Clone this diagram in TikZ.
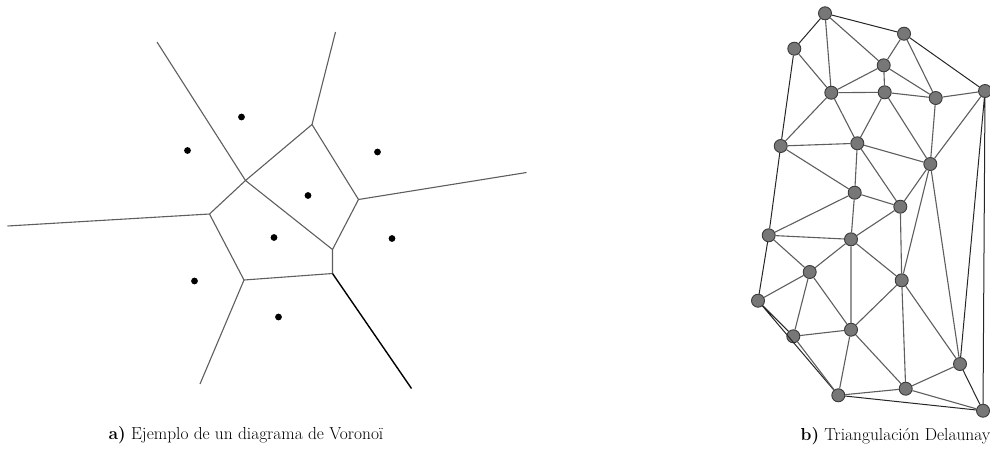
\documentclass[tikz,border=0pt]{standalone}
\usetikzlibrary{positioning}

\definecolor{edgegray}{HTML}{5E5E5E}
\definecolor{nodegray}{HTML}{777777}
\definecolor{rimgray}{HTML}{3A3A3A}

\begin{document}
\begin{tikzpicture}[
    x=1pt, y=-1pt,
    cell/.style={draw=edgegray, line width=1.1pt},
    site/.style={circle, fill=black, inner sep=0pt, minimum size=6.8pt},
    vertex/.style={circle, draw=rimgray, fill=nodegray, line width=0.9pt, inner sep=0pt, minimum size=13pt},
    inner/.style={draw=edgegray, line width=1.1pt},
    hull/.style={draw=black!85, line width=1pt},
    caption/.style={font=\fontsize{17.4}{20}\selectfont, inner sep=0pt}
]
\useasboundingbox (0,0) rectangle (990,456);

% Voronoi vertices
\coordinate (v1) at (312,124.5);
\coordinate (v2) at (245.5,180.5);
\coordinate (v3) at (358.5,199.5);
\coordinate (v4) at (209.5,214);
\coordinate (v5) at (332.5,249.5);
\coordinate (v6) at (332.5,273.5);
\coordinate (v7) at (244,280);
% open ends of the cells
\coordinate (r1) at (335.5,32);
\coordinate (r2) at (157,42);
\coordinate (r3) at (526.5,172.5);
\coordinate (r4) at (7.5,226);
\coordinate (r5) at (200,384);
\coordinate (r6) at (411.5,388.5);

% Cells
\draw[cell] (v1) -- (v2) (v1) -- (v3) (v2) -- (v4) (v2) -- (v5)
            (v3) -- (v5) (v4) -- (v7) (v5) -- (v6) (v6) -- (v7);
\draw[cell] (v1) -- (r1) (v2) -- (r2) (v3) -- (r3) (v4) -- (r4) (v7) -- (r5);
\draw[draw=black, line width=1.4pt] (v6) -- (r6);

% Sites
\node[site] (s1) at (241.5,117) {};
\node[site] (s2) at (187.5,150.5) {};
\node[site] (s3) at (377.5,152) {};
\node[site] (s4) at (308,195.5) {};
\node[site] (s5) at (274,237.5) {};
\node[site] (s6) at (392,238.5) {};
\node[site] (s7) at (194.5,281) {};
\node[site] (s8) at (278.5,317) {};

\node[caption, anchor=base] (capa) at (246,439.5) {\textbf{a)} Ejemplo de un diagrama de Voronoï};

% Delaunay points
\node[vertex] (dA) at (825,13.3) {};
\node[vertex] (dB) at (794.3,48.7) {};
\node[vertex] (dC) at (904,33.7) {};
\node[vertex] (dD) at (883.7,65.3) {};
\node[vertex] (dE) at (831.3,92.7) {};
\node[vertex] (dF) at (884.7,92.3) {};
\node[vertex] (dG) at (935.7,98) {};
\node[vertex] (dH) at (985,91) {};
\node[vertex] (dI) at (780.7,146) {};
\node[vertex] (dJ) at (857.3,143.3) {};
\node[vertex] (dK) at (930.3,164) {};
\node[vertex] (dL) at (854.7,192.7) {};
\node[vertex] (dM) at (900.3,206.7) {};
\node[vertex] (dN) at (768.7,235.3) {};
\node[vertex] (dO) at (851,239.3) {};
\node[vertex] (dP) at (809.7,272) {};
\node[vertex] (dQ) at (901.7,280.3) {};
\node[vertex] (dR) at (758,300.7) {};
\node[vertex] (dS) at (851,329.7) {};
\node[vertex] (dT) at (793.3,336.3) {};
\node[vertex] (dU) at (960,364) {};
\node[vertex] (dV) at (905.7,388.7) {};
\node[vertex] (dW) at (838.3,395.3) {};
\node[vertex] (dX) at (983,410.7) {};

% Triangles
\draw[hull] (dA) -- (dC) (dC) -- (dH) (dH) -- (dX) (dX) -- (dW) (dW) -- (dR)
            (dR) -- (dN) (dN) -- (dI) (dI) -- (dB) (dB) -- (dA)
            (dH) -- (dU) (dU) -- (dX) (dR) -- (dT);
\draw[inner] (dA) -- (dE) (dA) -- (dD) (dB) -- (dE) (dC) -- (dD) (dC) -- (dG)
             (dD) -- (dE) (dD) -- (dF) (dD) -- (dG) (dE) -- (dF) (dE) -- (dI)
             (dE) -- (dJ) (dF) -- (dG) (dF) -- (dJ) (dF) -- (dK) (dG) -- (dH)
             (dG) -- (dK) (dH) -- (dK) (dI) -- (dJ) (dI) -- (dL) (dJ) -- (dK)
             (dJ) -- (dL) (dJ) -- (dM) (dK) -- (dM) (dK) -- (dQ) (dK) -- (dU)
             (dL) -- (dM) (dL) -- (dN) (dL) -- (dO) (dM) -- (dO) (dM) -- (dQ)
             (dN) -- (dO) (dN) -- (dP) (dO) -- (dP) (dO) -- (dS) (dO) -- (dQ)
             (dP) -- (dR) (dP) -- (dT) (dP) -- (dS) (dQ) -- (dS) (dQ) -- (dV)
             (dQ) -- (dU) (dT) -- (dW) (dT) -- (dS) (dS) -- (dW) (dS) -- (dV)
             (dW) -- (dV) (dV) -- (dU) (dV) -- (dX);

\node[caption, anchor=base east] (capb) at (990.5,440.5) {\textbf{b)} Triangulación Delaunay};

\end{tikzpicture}
\end{document}
